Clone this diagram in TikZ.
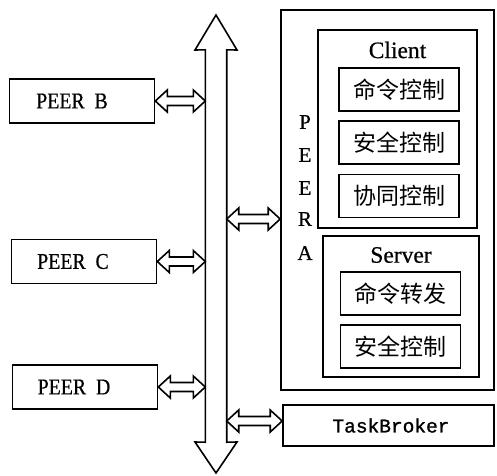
\documentclass[tikz,border=0pt]{standalone}
\usepackage{fontspec}
\setmainfont{Liberation Serif}[FakeBold=0.6,BoldFont={Liberation Serif}]
\newfontfamily\cjk{Noto Sans CJK SC}
\newfontfamily\monofont{Liberation Mono}[FakeBold=1.2]
\usetikzlibrary{calc}

\tikzset{
  line/.style={draw=black, line width=1.6pt},
  box/.style={line, rectangle, inner sep=0pt, anchor=center},
  peerbox/.style={box, minimum width=145pt, minimum height=44pt},
  funcbox/.style={box, minimum width=120pt, minimum height=43pt,
    font=\cjk\fontsize{23}{23}\selectfont},
  peerlabel/.style={font=\fontsize{22.5}{22.5}\selectfont, inner sep=0pt},
  title/.style={font=\fontsize{23.5}{23.5}\selectfont, inner sep=0pt},
  vletter/.style={font=\fontsize{21}{21}\selectfont, inner sep=0pt},
  link/.style={line, fill=white, line join=miter},
}

% hollow two-headed arrow between the x positions of two points, at the height of the first
\newcommand\duplexlink[2]{%
  \draw[link] let \p1=(#1), \p2=(#2) in
    (\x1,\y1) -- (\x1+12pt,\y1+11pt) -- (\x1+12pt,\y1+4.5pt) --
    (\x2-12pt,\y1+4.5pt) -- (\x2-12pt,\y1+11pt) -- (\x2,\y1) --
    (\x2-12pt,\y1-11pt) -- (\x2-12pt,\y1-4.5pt) --
    (\x1+12pt,\y1-4.5pt) -- (\x1+12pt,\y1-11pt) -- cycle;}

\begin{document}
\begin{tikzpicture}[x=1pt, y=-1pt]
\useasboundingbox (0,0) rectangle (497,475);

% shared bus: a tall two-headed hollow arrow
\node[inner sep=0pt, minimum width=21pt, minimum height=392pt] (bus) at (216,246) {};
\draw[line, line join=miter]
  (bus.north west) -- (195,50) -- (216,15) -- (237,50) -- (bus.north east)
  -- (bus.south east) -- (237,442) -- (216,473) -- (195,442) -- (bus.south west)
  -- cycle;

% other peers
\node[peerbox] (pb) at (82,101) {};
\node[peerlabel] at (72,101) {\scalebox{0.88}[1]{PEER\ \ B}};
\node[peerbox] (pc) at (84,261.5) {};
\node[peerlabel] at (73,261.5) {\scalebox{0.88}[1]{PEER\ \ C}};
\node[peerbox] (pd) at (85,387) {};
\node[peerlabel] at (74,387) {\scalebox{0.88}[1]{PEER\ \ D}};

% local peer with its client and server parts
\node[box, minimum width=213pt, minimum height=380pt] (pa) at (387.5,200) {};
\foreach \ch/\yy [count=\i] in {P/122, E/155, E/188, R/219, A/253}
  \node[vletter] (pa\i) at (305,\yy) {\ch};

\node[box, minimum width=159pt, minimum height=198pt] (client) at (397.5,129) {};
\node[title] (clientlbl) at (397.5,50) {Client};
\node[funcbox] (cmdctl) at (399,89.5) {命令控制};
\node[funcbox] (secctl) at (399,142.5) {安全控制};
\node[funcbox] (coctl) at (399,196) {协同控制};

\node[box, minimum width=156pt, minimum height=141pt] (server) at (401,306.5) {};
\node[title] (serverlbl) at (401,255) {Server};
\node[funcbox] (cmdfwd) at (400.5,293.5) {命令转发};
\node[funcbox] (secsrv) at (400.5,346.5) {安全控制};

\node[box, minimum width=211pt, minimum height=41pt] (tb) at (388.5,425.5) {};
\node[inner sep=0pt, font=\monofont\fontsize{19.5}{19.5}\selectfont] (tblbl) at (391,425.5) {TaskBroker};

% links to the bus
\duplexlink{pb.east}{bus.west}
\duplexlink{pc.east}{bus.west}
\duplexlink{pd.east}{bus.west}
\duplexlink{bus.east |- pa4}{pa.west}
\duplexlink{[yshift=4.5pt]bus.east |- tb.west}{tb.west}
\end{tikzpicture}
\end{document}
